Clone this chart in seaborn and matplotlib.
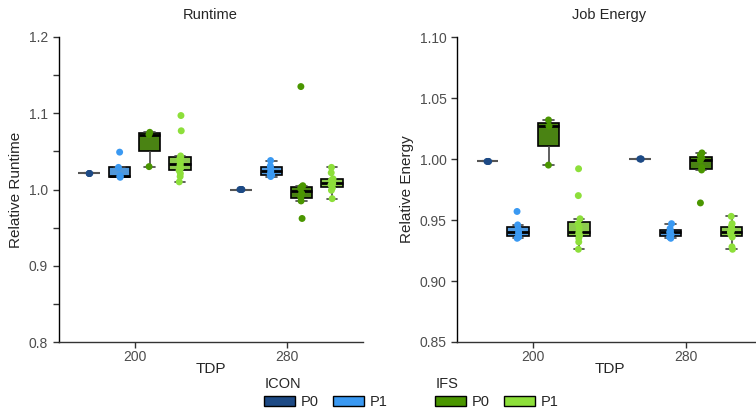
import numpy as np
import pandas as pd
import matplotlib
matplotlib.use("Agg")
import matplotlib.pyplot as plt
from matplotlib.patches import Patch
from matplotlib.ticker import MultipleLocator
import seaborn as sns

# ---- data ----
tdp_levels = ["200", "280"]
groups = ["ICON P0", "ICON P1", "IFS P0", "IFS P1"]
colors = ["#1d4a85", "#3a99f2", "#4a9600", "#8ddf3a"]

# Runtime (relative)
rt_icon_p0_200 = [1.021, 1.021, 1.021]
rt_icon_p1_200 = [1.016, 1.017, 1.018, 1.029, 1.049]
rt_ifs_p0_200 = [1.030, 1.072, 1.075]
rt_ifs_p1_200 = [1.010, 1.017, 1.021, 1.025, 1.028, 1.031, 1.033, 1.036, 1.040, 1.042, 1.044, 1.077, 1.097]
rt_icon_p0_280 = [1.000, 1.000, 1.000]
rt_icon_p1_280 = [1.017, 1.019, 1.020, 1.024, 1.028, 1.031, 1.038]
rt_ifs_p0_280 = [0.962, 0.985, 0.990, 0.995, 1.001, 1.003, 1.005, 1.135]
rt_ifs_p1_280 = [0.988, 0.999, 1.002, 1.006, 1.008, 1.010, 1.012, 1.014, 1.022, 1.029]

# Job energy (relative)
en_icon_p0_200 = [0.998, 0.998, 0.998]
en_icon_p1_200 = [0.935, 0.936, 0.938, 0.940, 0.943, 0.946, 0.957]
en_ifs_p0_200 = [0.995, 1.027, 1.032]
en_ifs_p1_200 = [0.926, 0.932, 0.935, 0.937, 0.938, 0.939, 0.941, 0.944, 0.947, 0.951, 0.970, 0.992]
en_icon_p0_280 = [1.000, 1.000, 1.000]
en_icon_p1_280 = [0.935, 0.936, 0.938, 0.940, 0.941, 0.943, 0.947]
en_ifs_p0_280 = [0.964, 0.991, 0.993, 0.999, 1.001, 1.003, 1.005]
en_ifs_p1_280 = [0.926, 0.928, 0.936, 0.938, 0.940, 0.941, 0.943, 0.945, 0.947, 0.953]


def build(sets):
    rows = []
    for (tdp, grp), vals in sets.items():
        for v in vals:
            rows.append({"TDP": tdp, "group": grp, "value": v})
    return pd.DataFrame(rows)


df_rt = build({
    ("200", "ICON P0"): rt_icon_p0_200, ("200", "ICON P1"): rt_icon_p1_200,
    ("200", "IFS P0"): rt_ifs_p0_200, ("200", "IFS P1"): rt_ifs_p1_200,
    ("280", "ICON P0"): rt_icon_p0_280, ("280", "ICON P1"): rt_icon_p1_280,
    ("280", "IFS P0"): rt_ifs_p0_280, ("280", "IFS P1"): rt_ifs_p1_280,
})
df_en = build({
    ("200", "ICON P0"): en_icon_p0_200, ("200", "ICON P1"): en_icon_p1_200,
    ("200", "IFS P0"): en_ifs_p0_200, ("200", "IFS P1"): en_ifs_p1_200,
    ("280", "ICON P0"): en_icon_p0_280, ("280", "ICON P1"): en_icon_p1_280,
    ("280", "IFS P0"): en_ifs_p0_280, ("280", "IFS P1"): en_ifs_p1_280,
})

sns.set_style("white")
plt.rcParams["font.family"] = ["Liberation Sans", "DejaVu Sans"]

W, H = 756, 411
fig = plt.figure(figsize=(W / 100, H / 100), dpi=100)
ax1 = fig.add_axes([58.5 / W, (H - 342) / H, 304 / W, 305 / H])
ax2 = fig.add_axes([457 / W, (H - 342) / H, 305 / W, 305 / H])

pal = dict(zip(groups, colors))


def draw(ax, df, ylim, major, minor, ylabel, title, fmt):
    sns.boxplot(data=df, x="TDP", y="value", hue="group", order=tdp_levels,
                hue_order=groups, palette=pal, width=0.8, gap=0.3,
                showfliers=False, linecolor="black", linewidth=1.2,
                whiskerprops=dict(color="#444444", linewidth=1.2),
                capprops=dict(color="#444444", linewidth=1.2),
                medianprops=dict(color="black", linewidth=2.0),
                legend=False, ax=ax)
    # zero-height boxes (single repeated value) look like a thin grey bar
    flat_y = []
    for p in ax.patches:
        try:
            ext = p.get_path().get_extents()
            if ext.height < 1e-9:
                p.set_edgecolor("#555555")
                flat_y.append(ext.y0)
        except Exception:
            pass
    for ln in ax.lines:
        yd = np.asarray(ln.get_ydata(), dtype=float)
        if len(yd) and np.allclose(yd, yd[0]) and any(abs(yd[0] - fy) < 1e-9 for fy in flat_y):
            ln.set_color("#555555")
            ln.set_linewidth(1.5)
    sns.stripplot(data=df, x="TDP", y="value", hue="group", order=tdp_levels,
                  hue_order=groups, palette=pal, dodge=True, jitter=0.03,
                  size=5, linewidth=0, legend=False, ax=ax)
    ax.set_xlim(-0.5, 1.5)
    ax.set_ylim(*ylim)
    ax.yaxis.set_major_locator(MultipleLocator(major))
    if minor:
        ax.yaxis.set_minor_locator(MultipleLocator(minor))
    ax.yaxis.set_major_formatter(matplotlib.ticker.FormatStrFormatter(fmt))
    ax.tick_params(axis="both", which="both", length=4, width=1, color="#333333",
                   labelsize=10, labelcolor="#4d4d4d", left=True, bottom=True)
    ax.tick_params(axis="x", pad=1.5)
    for s in ["top", "right"]:
        ax.spines[s].set_visible(False)
    ax.spines["left"].set_color("black")
    ax.spines["bottom"].set_color("#333333")
    ax.spines["left"].set_linewidth(1.0)
    ax.spines["bottom"].set_linewidth(1.0)
    ax.set_xlabel("TDP", fontsize=11, labelpad=-1.5)
    ax.set_ylabel(ylabel, fontsize=11)
    ax.set_title(title, fontsize=10.5, pad=13)


draw(ax1, df_rt, (0.8, 1.2), 0.1, 0.05, "Relative Runtime", "Runtime", "%.1f")
draw(ax2, df_en, (0.85, 1.10), 0.05, None, "Relative Energy", "Job Energy", "%.2f")

# legends
def make_legend(title, cols, x):
    handles = [Patch(facecolor=c, edgecolor="black", linewidth=1.0) for c in cols]
    leg = fig.legend(handles, ["P0", "P1"], title=title, ncol=2, frameon=False,
                     loc="lower left", bbox_to_anchor=(x, -0.021), fontsize=10.5,
                     title_fontsize=10.5, handlelength=2.1, handleheight=0.7,
                     columnspacing=1.0, handletextpad=0.4, borderpad=0.2,
                     labelspacing=0.3)
    leg._legend_box.align = "left"
    return leg

make_legend("ICON", colors[:2], 254 / W)
make_legend("IFS", colors[2:], 425 / W)

fig.savefig("out.png", dpi=100)
